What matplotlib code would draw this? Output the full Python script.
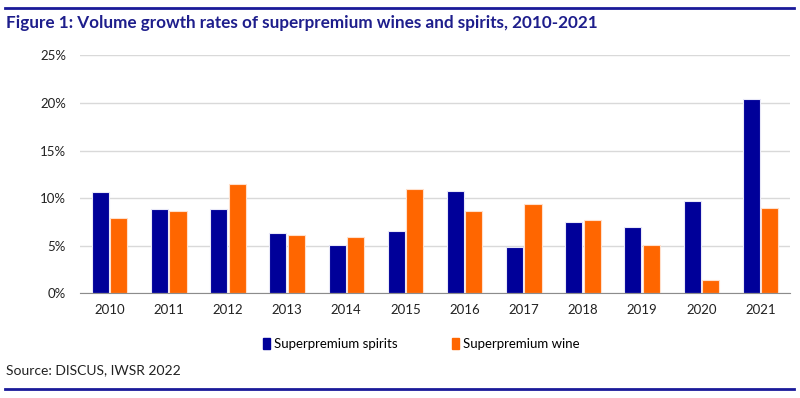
import matplotlib
matplotlib.use("Agg")
import matplotlib.pyplot as plt
import matplotlib.patches as mpatches
import numpy as np

plt.rcParams["font.family"] = ["Lato", "DejaVu Sans"]

anos = ["2010", "2011", "2012", "2013", "2014", "2015",
        "2016", "2017", "2018", "2019", "2020", "2021"]
spirits = [10.6, 8.9, 8.9, 6.3, 5.1, 6.5, 10.8, 4.9, 7.5, 7.0, 9.7, 20.4]
wine = [7.9, 8.6, 11.5, 6.1, 5.9, 11.0, 8.7, 9.4, 7.7, 5.1, 1.4, 9.0]
yticks = [0, 5, 10, 15, 20, 25]

AZUL = "#000099"
LARANJA = "#FF6600"
TITULO = "#1E1E8C"

fig = plt.figure(figsize=(8, 3.98), dpi=100)
ax = fig.add_axes([0.1, 0.263, 0.8875, 0.598])

x = np.arange(len(anos))
w = 0.29
ax.bar(x - w / 2 - 0.01, spirits, w, color=AZUL, edgecolor="#E8E8F8",
       linewidth=0.8, zorder=2, label="Superpremium spirits")
ax.bar(x + w / 2 + 0.01, wine, w, color=LARANJA, edgecolor="#FFE0CC",
       linewidth=0.8, zorder=2, label="Superpremium wine")

ax.set_xlim(-0.5, len(anos) - 0.5)
ax.set_ylim(0, 25)
ax.set_yticks(yticks)
ax.set_yticklabels([f"{v}%" for v in yticks])
ax.set_xticks(x)
ax.set_xticklabels(anos)
ax.tick_params(length=0, labelsize=9.5, colors="#222222", pad=8)
ax.tick_params(axis="y", pad=10)
ax.grid(axis="y", color="#D9D9D9", linewidth=1, zorder=0)
for s in ["top", "right", "left"]:
    ax.spines[s].set_visible(False)
ax.spines["bottom"].set_color("#8C8C8C")
ax.spines["bottom"].set_zorder(3)

handles = [mpatches.Patch(color=AZUL, label="Superpremium spirits"),
           mpatches.Patch(color=LARANJA, label="Superpremium wine")]
fig.legend(handles=handles, loc="center", bbox_to_anchor=(0.527, 0.136),
           ncol=2, frameon=False, fontsize=9.5, handlelength=0.55,
           handleheight=1.0, handletextpad=0.3, columnspacing=4.1)

fig.text(0.008, 0.942, "Figure 1: Volume growth rates of superpremium wines and spirits, 2010-2021",
         fontsize=12.3, fontweight="bold", color=TITULO, va="center", ha="left")
fig.text(0.008, 0.07, "Source: DISCUS, IWSR 2022", fontsize=10,
         color="#222222", va="center", ha="left")

fig.add_artist(plt.Line2D([0.006, 0.992], [0.98, 0.98], color="#1A1A99", linewidth=2))
fig.add_artist(plt.Line2D([0.006, 0.992], [0.022, 0.022], color="#1A1A99", linewidth=2))

fig.savefig("out.png", dpi=100)
